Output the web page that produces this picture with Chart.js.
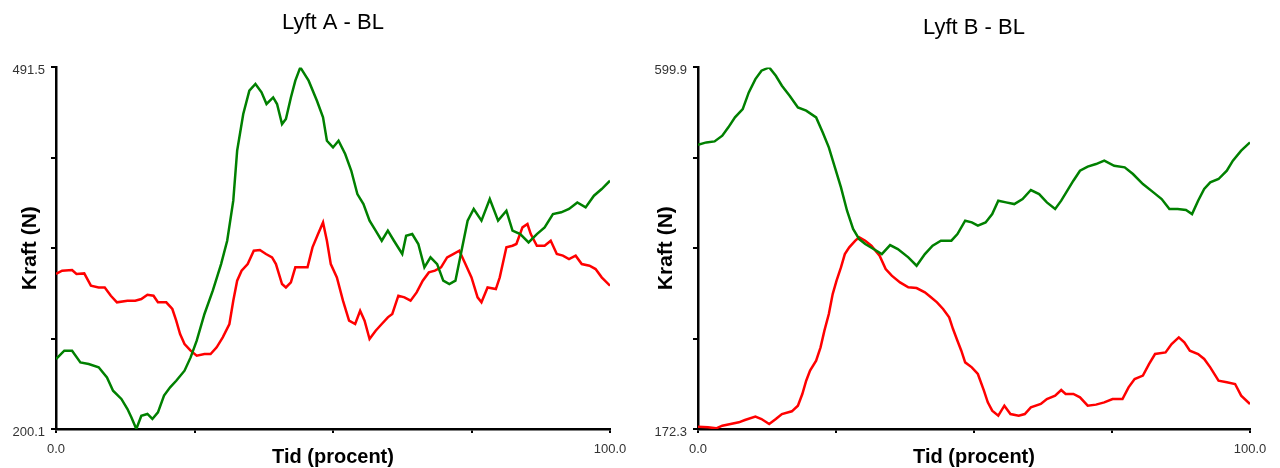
<!DOCTYPE html>
<html>
<head>
<meta charset="utf-8">
<script src="https://cdn.jsdelivr.net/npm/chart.js@4.4.1/dist/chart.umd.min.js"></script>
<style>
  body { margin: 0; background: #fff; }
  .box { position: absolute; top: 0; width: 640px; height: 468px; }
</style>
</head>
<body>
<div class="box" style="left:0"><canvas id="lyftA" width="640" height="468"></canvas></div>
<div class="box" style="left:640px"><canvas id="lyftB" width="640" height="468"></canvas></div>
<script>
// Lyft A - BL
const aGreenTid = [0,1.5,2.9,4.4,5.9,7.7,9.2,10.3,11.8,12.9,13.6,14.5,15.4,16.5,17.4,18.4,19.5,20.6,21.7,23.2,24.3,25.4,26.8,28.3,29.8,30.9,32.0,32.7,33.8,34.9,36.0,37.1,38.0,39.2,39.9,40.8,41.5,42.4,43.2,44.1,45.6,47.1,48.2,48.9,50.0,51.0,52.2,53.3,54.4,55.5,56.6,57.7,58.8,59.9,61.0,62.5,63.2,64.3,65.4,66.5,67.6,68.8,69.9,71.0,72.1,73.2,74.3,75.4,76.8,78.3,79.8,81.3,82.4,83.8,85.3,86.8,88.2,89.7,91.2,92.6,94.1,95.6,97.1,98.5,100];
const aGreenKraft = [256.5,263.2,263.2,253.8,252.5,249.8,241.7,231.0,224.3,216.2,209.5,200.1,210.8,212.2,208.2,213.5,227.0,233.7,239.0,247.1,257.8,271.3,292.8,311.6,333.0,351.8,384.1,424.4,453.9,472.7,478.1,471.4,462.0,467.3,462.0,445.8,449.9,467.3,480.8,491.5,480.8,464.6,451.2,432.4,427.0,432.4,421.7,408.2,389.4,381.4,368.0,359.9,351.8,359.9,351.8,341.1,355.9,357.2,349.2,330.4,338.4,333.0,319.6,316.9,319.6,343.8,368.0,377.4,368.0,385.4,368.0,376.0,359.9,357.2,350.5,357.2,362.6,373.3,374.7,377.4,382.7,378.7,388.1,393.5,400.2];
const aRedTid = [0,1.1,2.9,3.7,5.1,6.3,7.7,8.8,9.9,11.0,12.9,14.3,15.4,16.5,17.6,18.4,19.9,21.0,21.7,22.4,23.2,24.3,25.4,26.8,27.9,29.0,30.1,31.3,32.0,32.7,33.5,34.6,35.7,36.8,37.9,39.0,39.7,40.8,41.5,42.4,43.2,44.5,45.4,46.3,47.3,48.2,48.9,49.6,50.7,51.8,52.9,54.0,54.9,55.7,56.6,57.7,58.8,59.9,60.7,61.8,62.9,64.0,65.1,66.2,67.3,68.4,69.5,70.6,71.7,72.8,73.9,75.0,76.1,76.8,77.9,79.4,80.1,81.3,82.4,83.1,84.2,85.1,85.7,86.8,88.2,89.3,90.4,91.5,92.6,93.8,94.9,96.3,97.4,98.5,100];
const aRedKraft = [325.0,327.7,328.2,325.0,325.5,315.6,314.2,314.2,307.5,302.2,303.5,303.5,304.8,308.3,307.5,302.2,302.2,296.8,287.4,276.6,268.6,263.2,259.2,260.5,260.5,265.9,274.0,284.7,303.5,319.6,327.7,333.0,343.8,344.3,341.1,338.4,333.0,316.9,314.2,318.3,330.4,330.4,330.4,346.5,357.2,366.6,351.8,333.0,322.3,303.5,287.4,284.7,295.4,287.4,272.6,279.3,284.7,290.1,292.8,307.5,306.2,303.5,310.2,319.6,326.3,327.7,330.4,338.4,341.1,343.8,333.0,322.3,306.2,302.2,314.2,312.9,322.3,346.5,347.8,349.2,362.6,365.3,357.2,347.8,347.8,351.8,341.1,339.8,337.1,339.8,333.0,331.7,329.0,322.3,315.6];
const aMin = 200.1;
const aMax = 491.5;

// Lyft B - BL
const bGreenTid = [0,1.5,3.0,4.4,5.5,6.7,8.1,9.2,10.4,11.5,12.9,14.1,15.2,16.6,18.1,19.6,21.4,22.6,23.7,24.8,25.9,27.0,28.1,29.2,30.3,31.8,33.3,34.8,36.2,38.1,39.6,41.1,42.5,44.0,45.9,47.0,48.4,49.6,50.7,52.1,53.3,54.4,55.8,57.3,58.8,60.3,61.8,63.2,64.7,65.8,66.9,68.0,69.2,70.6,72.1,73.6,75.4,77.3,78.8,80.6,82.5,84.0,85.4,86.9,88.4,89.5,90.6,91.7,92.8,94.3,95.8,96.9,98.4,100];
const bGreenKraft = [508.5,511.2,512.4,519.1,529.0,540.8,550.6,570.3,586.1,596.0,599.9,590.0,578.2,566.4,552.6,548.7,540.8,523.0,505.3,481.7,458.0,430.4,408.8,396.9,391.0,385.1,379.2,389.8,385.1,375.3,365.4,379.2,389.1,395.0,395.0,402.8,418.6,416.6,412.7,416.6,426.5,442.3,440.3,438.3,444.2,454.9,450.1,440.3,432.4,442.3,454.1,465.9,477.7,482.5,485.6,489.6,483.6,481.7,473.8,462.0,452.1,444.2,432.4,432.4,431.2,426.5,442.3,456.1,463.9,467.9,477.7,489.6,501.4,511.2];
const bRedTid = [0,1.8,3.3,4.4,5.9,7.4,8.5,10.4,11.5,12.9,14.1,15.2,17.0,18.1,18.9,19.6,20.3,21.4,22.2,22.9,23.7,24.4,25.1,25.9,26.6,27.4,28.5,29.2,30.3,31.4,32.9,34.0,35.1,36.6,38.1,39.6,41.1,42.2,43.3,44.4,45.5,46.2,47.0,47.7,48.4,49.6,50.7,51.8,52.5,53.3,54.4,55.5,56.6,58.1,59.2,60.3,62.1,63.2,64.7,65.8,66.6,68.0,69.2,70.6,72.1,73.6,75.1,76.9,78.0,79.1,80.6,81.7,82.8,84.7,85.8,87.1,88.1,89.1,90.6,91.7,92.8,94.3,95.8,97.3,98.4,100];
const bRedKraft = [175.1,174.3,173.1,176.2,178.2,180.2,182.9,186.9,184.1,178.2,184.1,190.0,193.2,199.9,213.7,229.4,241.3,253.1,268.9,288.6,308.3,331.9,347.7,363.4,379.2,387.1,395.0,398.9,395.0,389.1,377.2,361.5,353.6,345.7,339.8,339.0,333.9,328.0,322.1,314.2,304.3,290.5,276.7,264.9,251.1,245.2,237.3,217.6,203.8,194.0,188.1,199.9,190.0,188.1,190.0,197.9,201.9,207.8,211.7,218.4,213.7,213.7,209.7,199.9,201.1,203.8,207.8,207.8,221.6,231.4,235.4,249.1,261.0,262.9,272.8,280.7,274.8,264.9,261.0,255.1,245.2,229.4,227.5,225.5,211.7,201.9];
const bMin = 172.3;
const bMax = 599.9;

const xTicks = [0, 25, 50, 75, 100];

function points(tid, kraft) {
    var out = [];
    for (var i = 0; i < tid.length; i++) {
        out.push({ x: tid[i], y: kraft[i] });
    }
    return out;
}

function makeChart(id, title, yMin, yMax, green, red, leftW, titleTop, yTitlePad) {
    const config = {
        type: 'line',
        data: {
            datasets: [
                { data: green, borderColor: '#008000', borderWidth: 2.5, pointRadius: 0, tension: 0 },
                { data: red, borderColor: '#ff0000', borderWidth: 2.5, pointRadius: 0, tension: 0 }
            ]
        },
        options: {
            responsive: false,
            animation: false,
            events: [],
            layout: { padding: { left: 0, right: 30, top: 0, bottom: 0 } },
            plugins: {
                legend: { display: false },
                tooltip: { enabled: false },
                title: {
                    display: true,
                    text: title,
                    fullSize: false,
                    color: '#000',
                    font: { family: 'Liberation Sans', size: 22, weight: 'normal' },
                    padding: { top: titleTop, bottom: 67 - titleTop - 26 }
                }
            },
            scales: {
                x: {
                    type: 'linear',
                    min: 0,
                    max: 100,
                    afterBuildTicks: function (s) { s.ticks = xTicks.map(function (v) { return { value: v }; }); },
                    afterFit: function (s) { s.height = 39; },
                    ticks: {
                        autoSkip: false,
                        maxRotation: 0,
                        padding: 9,
                        color: '#333',
                        font: { family: 'Liberation Sans', size: 13 },
                        callback: function (v) { return (v === 0 || v === 100) ? v.toFixed(1) : ''; }
                    },
                    grid: { drawOnChartArea: false, drawTicks: true, tickLength: 4, color: '#000', lineWidth: 2 },
                    border: { display: true, color: '#000', width: 2.5 },
                    title: {
                        display: true,
                        text: 'Tid (procent)',
                        color: '#000',
                        font: { family: 'Liberation Sans', size: 20, weight: 'bold' },
                        padding: { top: 0, bottom: -1 }
                    }
                },
                y: {
                    min: yMin,
                    max: yMax,
                    afterBuildTicks: function (s) {
                        var t = [];
                        for (var i = 0; i <= 4; i++) { t.push({ value: yMin + (yMax - yMin) * i / 4 }); }
                        s.ticks = t;
                    },
                    afterFit: function (s) { s.width = leftW; },
                    ticks: {
                        autoSkip: false,
                        padding: 6,
                        labelOffset: 3,
                        color: '#333',
                        font: { family: 'Liberation Sans', size: 13 },
                        callback: function (v, i) { return (i === 0 || i === 4) ? v.toFixed(1) : ''; }
                    },
                    grid: { drawOnChartArea: false, drawTicks: true, tickLength: 5, color: '#000', lineWidth: 2 },
                    border: { display: true, color: '#000', width: 2.5 },
                    title: {
                        display: true,
                        text: 'Kraft (N)',
                        color: '#000',
                        font: { family: 'Liberation Sans', size: 21, weight: 'bold' },
                        padding: { top: yTitlePad, bottom: 0 }
                    }
                }
            }
        }
    };
    return new Chart(document.getElementById(id), config);
}

const chartA = makeChart('lyftA', 'Lyft A - BL', aMin, aMax, points(aGreenTid, aGreenKraft), points(aRedTid, aRedKraft), 56, 10, 18);
const chartB = makeChart('lyftB', 'Lyft B - BL', bMin, bMax, points(bGreenTid, bGreenKraft), points(bRedTid, bRedKraft), 58, 15, 14);
</script>
</body>
</html>
